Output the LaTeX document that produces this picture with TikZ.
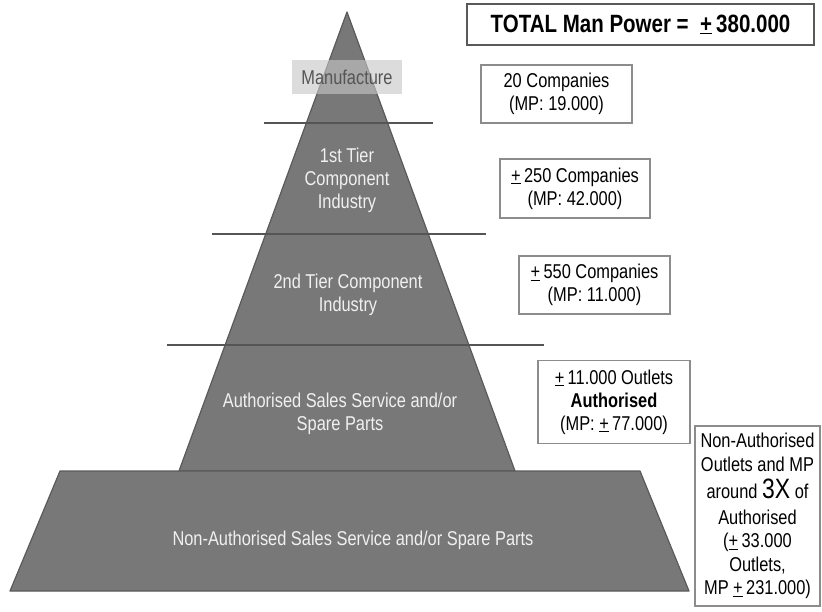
\documentclass[tikz,border=0pt]{standalone}
\usepackage{fontspec}
\setmainfont{Liberation Sans}[FakeStretch=0.82]
\definecolor{pyr}{HTML}{787878}
\definecolor{pyredge}{HTML}{5A5A5A}
\definecolor{sepc}{HTML}{555555}
\definecolor{lblc}{HTML}{F0F0F0}
\definecolor{boxc}{HTML}{8C8C8C}
\definecolor{mfill}{HTML}{C6C6C6}
\definecolor{mtext}{HTML}{555555}
\begin{document}
\begin{tikzpicture}[x=1pt,y=-1pt,
  layer/.style={fill=pyr, draw=pyredge, line width=1.2pt, line join=round},
  sep/.style={draw=sepc, line width=2.2pt},
  lbl/.style={text=lblc, align=center, font=\fontsize{20}{23}\selectfont, inner sep=0pt},
  info/.style={draw=boxc, line width=1.3pt, fill=white, align=center,
    font=\fontsize{20}{23}\selectfont, inner sep=0pt, text=black, anchor=center},
]
\useasboundingbox (0,0) rectangle (822,611);

% pyramid
\coordinate (apex) at (347,12);
\coordinate (bl) at (179,471);
\coordinate (br) at (515,471);
\draw[layer] (apex) -- (br) -- (bl) -- cycle;
\draw[layer] (60,471) -- (640,471) -- (689,591) -- (10,591) -- cycle;

% separator lines
\coordinate (s1a) at (264,123); \coordinate (s1b) at (433,123);
\coordinate (s2a) at (212,234); \coordinate (s2b) at (486,234);
\coordinate (s3a) at (167,345); \coordinate (s3b) at (544,345);
\draw[sep] (s1a) -- (s1b);
\draw[sep] (s2a) -- (s2b);
\draw[sep] (s3a) -- (s3b);

% pyramid labels
\node[minimum width=110pt, minimum height=34pt, inner sep=0pt,
  fill=mfill, fill opacity=0.62, text opacity=1, text=mtext,
  font=\fontsize{20}{23}\selectfont] (manu) at (347,77) {Manufacture};
\node[lbl] (tier1) at (347,180) {1st Tier\\Component\\Industry};
\node[lbl] (tier2) at (348,295) {2nd Tier Component\\Industry};
\node[lbl] (auth) at (340,414) {Authorised Sales Service and/or\\Spare Parts};
\node[lbl] (nonauth) at (353,540) {Non-Authorised Sales Service and/or Spare Parts};

% info boxes
\node[info, draw=black!65, line width=1.8pt, minimum width=347pt, minimum height=41pt,
  font=\fontsize{25}{28}\selectfont\bfseries] (total) at (640.5,24.5)
  {TOTAL Man Power =\ \ \underline{+}\,380.000};
\node[info, minimum width=151pt, minimum height=58pt] (b1) at (556.5,94)
  {20 Companies\\(MP: 19.000)};
\node[info, minimum width=150pt, minimum height=59pt] (b2) at (575,188.5)
  {\underline{+}\,250 Companies\\(MP: 42.000)};
\node[info, minimum width=151pt, minimum height=58pt] (b3) at (594.5,285)
  {\underline{+}\,550 Companies\\(MP: 11.000)};
\node[info, minimum width=152pt, minimum height=83pt] (b4) at (614,402)
  {\underline{+}\,11.000 Outlets\\\textbf{Authorised}\\(MP: \underline{+}\,77.000)};
\node[info, minimum width=125pt, minimum height=180pt,
  font=\fontsize{20}{23.5}\selectfont] (b5) at (757.5,516)
  {Non-Authorised\\Outlets and MP\\[4pt]around {\fontsize{28}{28}\selectfont 3X} of\\[2pt]Authorised\\(\underline{+}\,33.000\\Outlets,\\MP \underline{+}\,231.000)};
\end{tikzpicture}
\end{document}
